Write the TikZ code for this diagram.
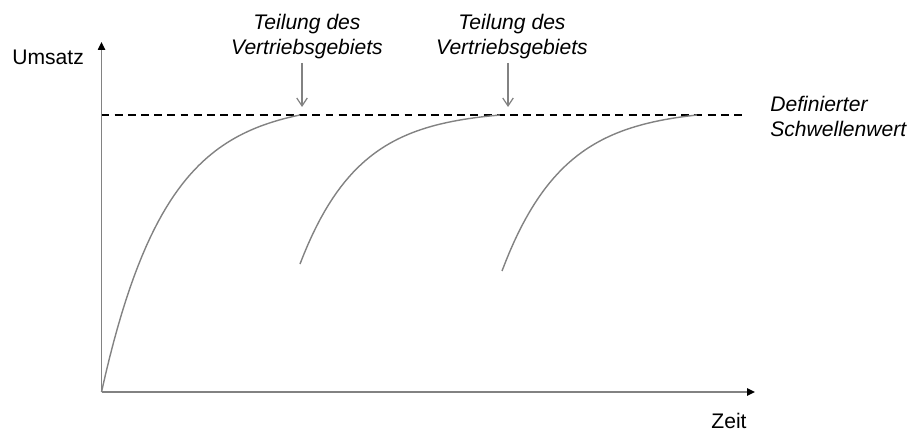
\documentclass[tikz,border=0pt]{standalone}
\usepackage{fontspec}
\setmainfont{Liberation Sans}
\usetikzlibrary{arrows.meta,positioning,calc}

\begin{document}
\begin{tikzpicture}[x=0.02cm, y=0.02cm,
    achse/.style={draw=grau, line width=1.1pt, -{Triangle[black, length=4.5pt, width=4pt]}},
    kurve/.style={draw=grau, line width=0.8pt},
    schwelle/.style={black, line width=1.1pt, dash pattern=on 4.5pt off 3pt},
    pfeil/.style={draw=grau, line width=0.7pt, -{Straight Barb[length=4.5pt, width=6pt]}},
    beschr/.style={inner sep=0pt, font=\fontsize{12}{14.2}\selectfont},
    beschrit/.style={beschr, font=\fontsize{12}{14.2}\selectfont\itshape, align=center}]
    % Farben
    \definecolor{grau}{RGB}{130,130,130}

    % Rahmen
    \useasboundingbox (0,0) rectangle (909,430);

    % Achsen
    \coordinate (O) at (101.5,38);
    \coordinate (ytop) at (101.5,388);
    \coordinate (xend) at (755,38);
    \draw[achse] (O) -- (ytop);
    \draw[achse] (O) -- (xend);
    \node[beschr, anchor=base west] (umsatz) at (12,365) {Umsatz};
    \node[beschr, anchor=base] (zeit) at (729,2) {Zeit};

    % Schwellenwert
    \coordinate (s0) at (101.5,315);
    \coordinate (s1) at (744,315);
    \draw[schwelle] (s0) -- (s1);
    \node[beschrit, anchor=north west, align=left] (schwellenwert) at (770,334) {Definierter\\Schwellenwert};

    % Umsatzkurven
    \foreach \xa/\ya/\xb/\k in {101.5/38/300/3.1, 300/166/500/3.4, 502/159/697/3.2}
        \draw[kurve] plot[domain=0:1, samples=50]
            ({\xa+(\xb-\xa)*\x}, {\ya+(315-\ya)*(1-exp(-\k*\x))/(1-exp(-\k))});

    % Teilung des Vertriebsgebiets
    \node[beschrit, anchor=north] (teilung1) at (307,416) {Teilung des\\Vertriebsgebiets};
    \node[beschrit, anchor=north] (teilung2) at (512,416) {Teilung des\\Vertriebsgebiets};
    \coordinate (p1) at (302,323);
    \coordinate (p2) at (508,323);
    \draw[pfeil, shorten <=2pt] (teilung1.south -| p1) -- (p1);
    \draw[pfeil, shorten <=2pt] (teilung2.south -| p2) -- (p2);
\end{tikzpicture}
\end{document}
